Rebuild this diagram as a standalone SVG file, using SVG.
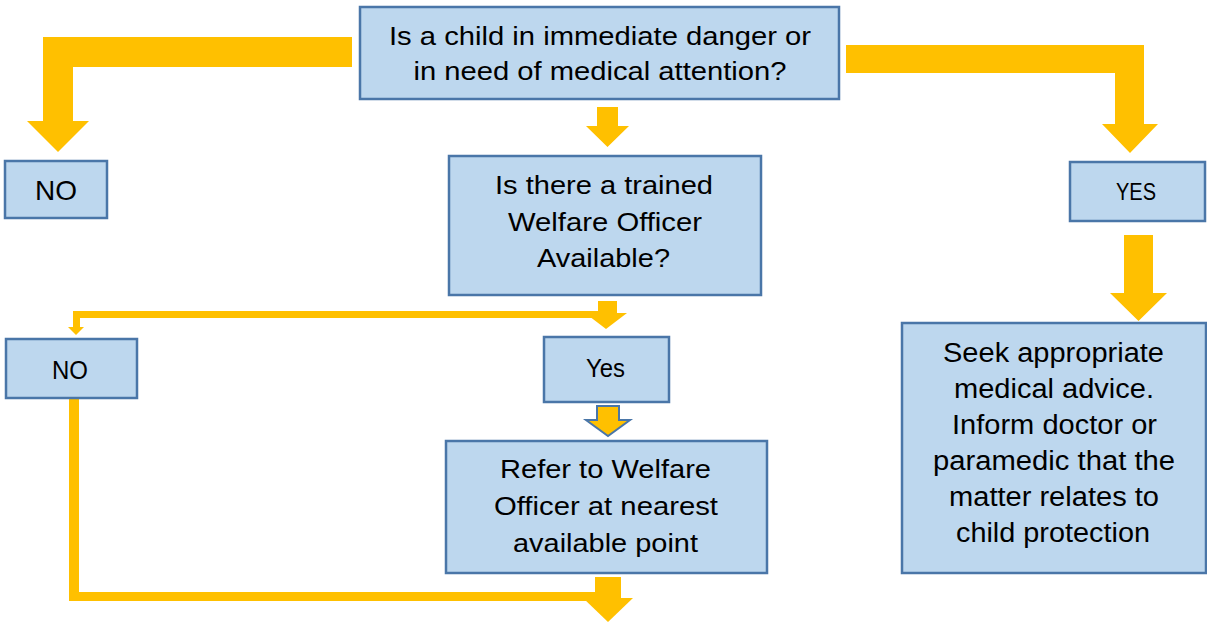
<svg xmlns="http://www.w3.org/2000/svg" width="1207" height="624" viewBox="0 0 1207 624">
<style>
.box{fill:#BDD7EE;stroke:#4A76A8;stroke-width:2.5}
.arr{fill:#FFC000}
.arro{fill:#FFC000;stroke:#4A76A8;stroke-width:2}
.t{font-family:"Liberation Sans",Arial,sans-serif;fill:#000;text-anchor:middle}
</style>
<rect width="1207" height="624" fill="#fff"/>
<g id="connectors">
<path class="arr" d="M352,37 H43 V121 H27 L58,152 L89,121 H73 V67 H352 Z"/>
<path class="arr" d="M846,45 H1144 V124 H1158 L1130,153 L1102,124 H1115 V73 H846 Z"/>
<path class="arr" d="M597,107 H618 V126 H629 L607.5,147 L586,126 H597 Z"/>
<path class="arr" d="M1124,235 H1153 V293 H1167 L1138.5,321 L1110,293 H1124 Z"/>
<g class="arr">
<rect x="598" y="301" width="19" height="13"/>
<polygon points="585,313 627,313 606,329"/>
<rect x="73" y="311" width="526" height="7"/>
<rect x="73" y="311" width="7" height="17"/>
<polygon points="68,327 84,327 76,335"/>
</g>
<g class="arr">
<rect x="69" y="398" width="10" height="203"/>
<rect x="69" y="592" width="527" height="9"/>
<rect x="595" y="577" width="26" height="22"/>
<polygon points="583,598 633,598 608,622"/>
</g>
<path class="arro" d="M597,406 H619 V420 H630 L608,436 L586,420 H597 Z"/>
</g>
<g id="q1">
<rect class="box" x="360" y="7" width="479" height="92"/>
<text class="t" font-size="26" x="600" y="45" textLength="422" lengthAdjust="spacingAndGlyphs">Is a child in immediate danger or</text>
<text class="t" font-size="26" x="600" y="80" textLength="373" lengthAdjust="spacingAndGlyphs">in need of medical attention?</text>
</g>
<g id="no1">
<rect class="box" x="5" y="161" width="102" height="57"/>
<text class="t" font-size="28" x="56" y="200" textLength="42" lengthAdjust="spacingAndGlyphs">NO</text>
</g>
<g id="yes1">
<rect class="box" x="1070" y="162" width="135" height="59"/>
<text class="t" font-size="23" x="1136" y="200" textLength="40" lengthAdjust="spacingAndGlyphs">YES</text>
</g>
<g id="q2">
<rect class="box" x="449" y="156" width="312" height="139"/>
<text class="t" font-size="26" x="604" y="194" textLength="218" lengthAdjust="spacingAndGlyphs">Is there a trained</text>
<text class="t" font-size="26" x="605" y="231" textLength="194" lengthAdjust="spacingAndGlyphs">Welfare Officer</text>
<text class="t" font-size="26" x="603.5" y="267" textLength="133" lengthAdjust="spacingAndGlyphs">Available?</text>
</g>
<g id="no2">
<rect class="box" x="6" y="339" width="131" height="59"/>
<text class="t" font-size="26" x="70" y="379" textLength="36" lengthAdjust="spacingAndGlyphs">NO</text>
</g>
<g id="yes2">
<rect class="box" x="544" y="337" width="125" height="65"/>
<text class="t" font-size="26" x="605.5" y="377" textLength="39" lengthAdjust="spacingAndGlyphs">Yes</text>
</g>
<g id="refer">
<rect class="box" x="446" y="441" width="321" height="132"/>
<text class="t" font-size="26" x="605.5" y="478" textLength="211" lengthAdjust="spacingAndGlyphs">Refer to Welfare</text>
<text class="t" font-size="26" x="606" y="515" textLength="224" lengthAdjust="spacingAndGlyphs">Officer at nearest</text>
<text class="t" font-size="26" x="605.5" y="552" textLength="185" lengthAdjust="spacingAndGlyphs">available point</text>
</g>
<g id="seek">
<rect class="box" x="902" y="323" width="304" height="250"/>
<text class="t" font-size="27" x="1053.5" y="362" textLength="221" lengthAdjust="spacingAndGlyphs">Seek appropriate</text>
<text class="t" font-size="27" x="1054" y="398" textLength="200" lengthAdjust="spacingAndGlyphs">medical advice.</text>
<text class="t" font-size="27" x="1054.5" y="434" textLength="205" lengthAdjust="spacingAndGlyphs">Inform doctor or</text>
<text class="t" font-size="27" x="1054" y="470" textLength="242" lengthAdjust="spacingAndGlyphs">paramedic that the</text>
<text class="t" font-size="27" x="1054" y="506" textLength="210" lengthAdjust="spacingAndGlyphs">matter relates to</text>
<text class="t" font-size="27" x="1053" y="542" textLength="194" lengthAdjust="spacingAndGlyphs">child protection</text>
</g>
</svg>
